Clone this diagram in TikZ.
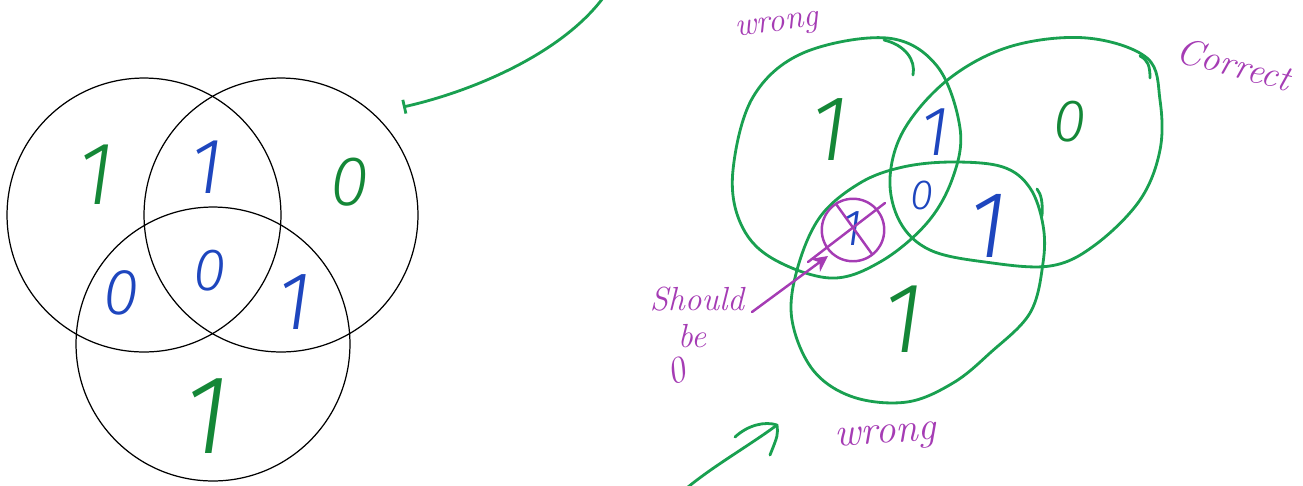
\documentclass[tikz,border=0pt]{standalone}
\usepackage{fontspec}
\newfontfamily\digitfont{Fira Sans}[UprightFont={* Light}, ItalicFont={* Light Italic}, BoldFont={* Bold}]
\usetikzlibrary{arrows.meta}
\definecolor{penG}{RGB}{25,160,80}
\definecolor{digG}{RGB}{20,135,55}
\definecolor{digB}{RGB}{30,70,190}
\definecolor{penP}{RGB}{165,60,180}
\tikzset{
  vcirc/.style={circle, draw=black, line width=0.7pt, minimum size=5.48cm, inner sep=0pt},
  dig/.style 2 args={text=#1, font=\digitfont\itshape\fontsize{#2}{#2}\selectfont, inner sep=0pt},
  lab/.style={text=penP, font=\itshape\fontsize{#1}{#1}\selectfont, inner sep=0pt},
  gpen/.style={draw=penG, line width=1.6pt, line cap=round, line join=round},
  ppen/.style={draw=penP, line width=1.4pt, line cap=round, line join=round},
}
\begin{document}
\begin{tikzpicture}[x=0.02cm, y=-0.02cm]
\useasboundingbox (0,0) rectangle (1303,485);
\clip (0,0) rectangle (1303,485);

% cut-off heading letter
\node[anchor=base, font=\digitfont\bfseries\fontsize{30}{30}\selectfont] (cut) at (245,-15) {g};

% ---------- left Venn diagram ----------
\node[vcirc] (A) at (144,215) {};
\node[vcirc] (B) at (281,215) {};
\node[vcirc] (C) at (213,344) {};

\node[dig={digG}{51}] (a1) at (96,175) {1};
\node[dig={digB}{45}] (ab) at (207,167) {1};
\node[dig={digG}{40}] (b0) at (350,182) {0};
\node[dig={digB}{37}] (ac) at (121,293) {0};
\node[dig={digB}{34}] (abc) at (210,271) {0};
\node[dig={digB}{47}] (bc) at (294,302) {1};
\node[dig={digG}{64}] (c1) at (207,416) {1};

% arrow pointing at left diagram
\coordinate (ga1) at (603,-2);
\coordinate (ga2) at (403,107);
\draw[gpen, -{Bar[width=8pt,line width=1.6pt]}] (ga1) .. controls (560,55) and (470,92) .. (ga2);

% ---------- right hand-drawn diagram ----------
% top-left set (wrong)
\draw[gpen] plot[smooth cycle, tension=0.6] coordinates {
 (887,38) (937,66) (960,128) (953,177) (927,223) (880,262) (830,278)
 (770,257) (740,222) (733,170) (753,97) (803,53)};
\draw[gpen] (884,40) .. controls (905,45) and (916,60) .. (913,75);
% top-right set (correct)
\draw[gpen] plot[smooth cycle, tension=0.6] coordinates {
 (1087,38) (1147,58) (1160,100) (1160,150) (1140,200) (1095,245) (1050,266)
 (985,262) (930,250) (900,222) (890,178) (905,128) (950,78) (1012,46)};
\draw[gpen] (1140,56) .. controls (1148,60) and (1150,66) .. (1150,78);
% bottom set (wrong)
\draw[gpen] plot[smooth cycle, tension=0.6] coordinates {
 (953,162) (1003,167) (1030,188) (1043,225) (1043,263) (1030,313) (990,353)
 (953,383) (907,402) (853,397) (813,370) (792,320) (797,270) (820,217)
 (860,183) (903,167)};
\draw[gpen] (1037,189) .. controls (1041,194) and (1043,202) .. (1042,216);

\node[dig={digG}{53}] (r1) at (830,130) {1};
\node[dig={digB}{40}] (rab) at (935,132) {1};
\node[dig={digG}{34}] (r0) at (1070,122) {0};
\node[dig={digB}{24}] (rabc) at (922,195) {0};
\node[dig={digB}{29}] (rac) at (852,229) {1};
\node[dig={digB}{54}] (rbc) at (988,226) {1};
\node[dig={digG}{57}] (rc1) at (903,319) {1};

% purple correction marks
\node[circle, ppen, minimum size=1.25cm, inner sep=0pt] (pc) at (853,230) {};
\coordinate (x1) at (836,204);
\coordinate (x2) at (872,254);
\coordinate (x3) at (885,203);
\coordinate (x4) at (808,262);
\draw[ppen] (x1) -- (x2);
\draw[ppen] (x3) -- (x4);

\node[lab=19, rotate=8] (w1) at (777,27) {wrong};
\node[lab=21, rotate=-15] (cor) at (1234,64) {Correct};
\node[lab=23, rotate=4] (w2) at (886,438) {wrong};
\node[lab=19] (sh) at (697,299) {Should};
\node[lab=19] (be) at (692,336) {be};
\node[lab=21, rotate=20] (zero) at (676,371) {0};

\coordinate (pa1) at (752,312);
\coordinate (pa2) at (828,256);
\draw[ppen, -{Stealth[length=9pt,width=9pt]}] (pa1) -- (pa2);

% arrow pointing at right diagram
\coordinate (ba1) at (688,487);
\coordinate (ba2) at (777,425);
\coordinate (bh1) at (735,437);
\coordinate (bh2) at (770,455);
\draw[gpen] (ba1) .. controls (715,465) and (750,445) .. (ba2);
\draw[gpen] (bh1) .. controls (748,425) and (765,421) .. (ba2) .. controls (778,435) .. (bh2);
\end{tikzpicture}
\end{document}
